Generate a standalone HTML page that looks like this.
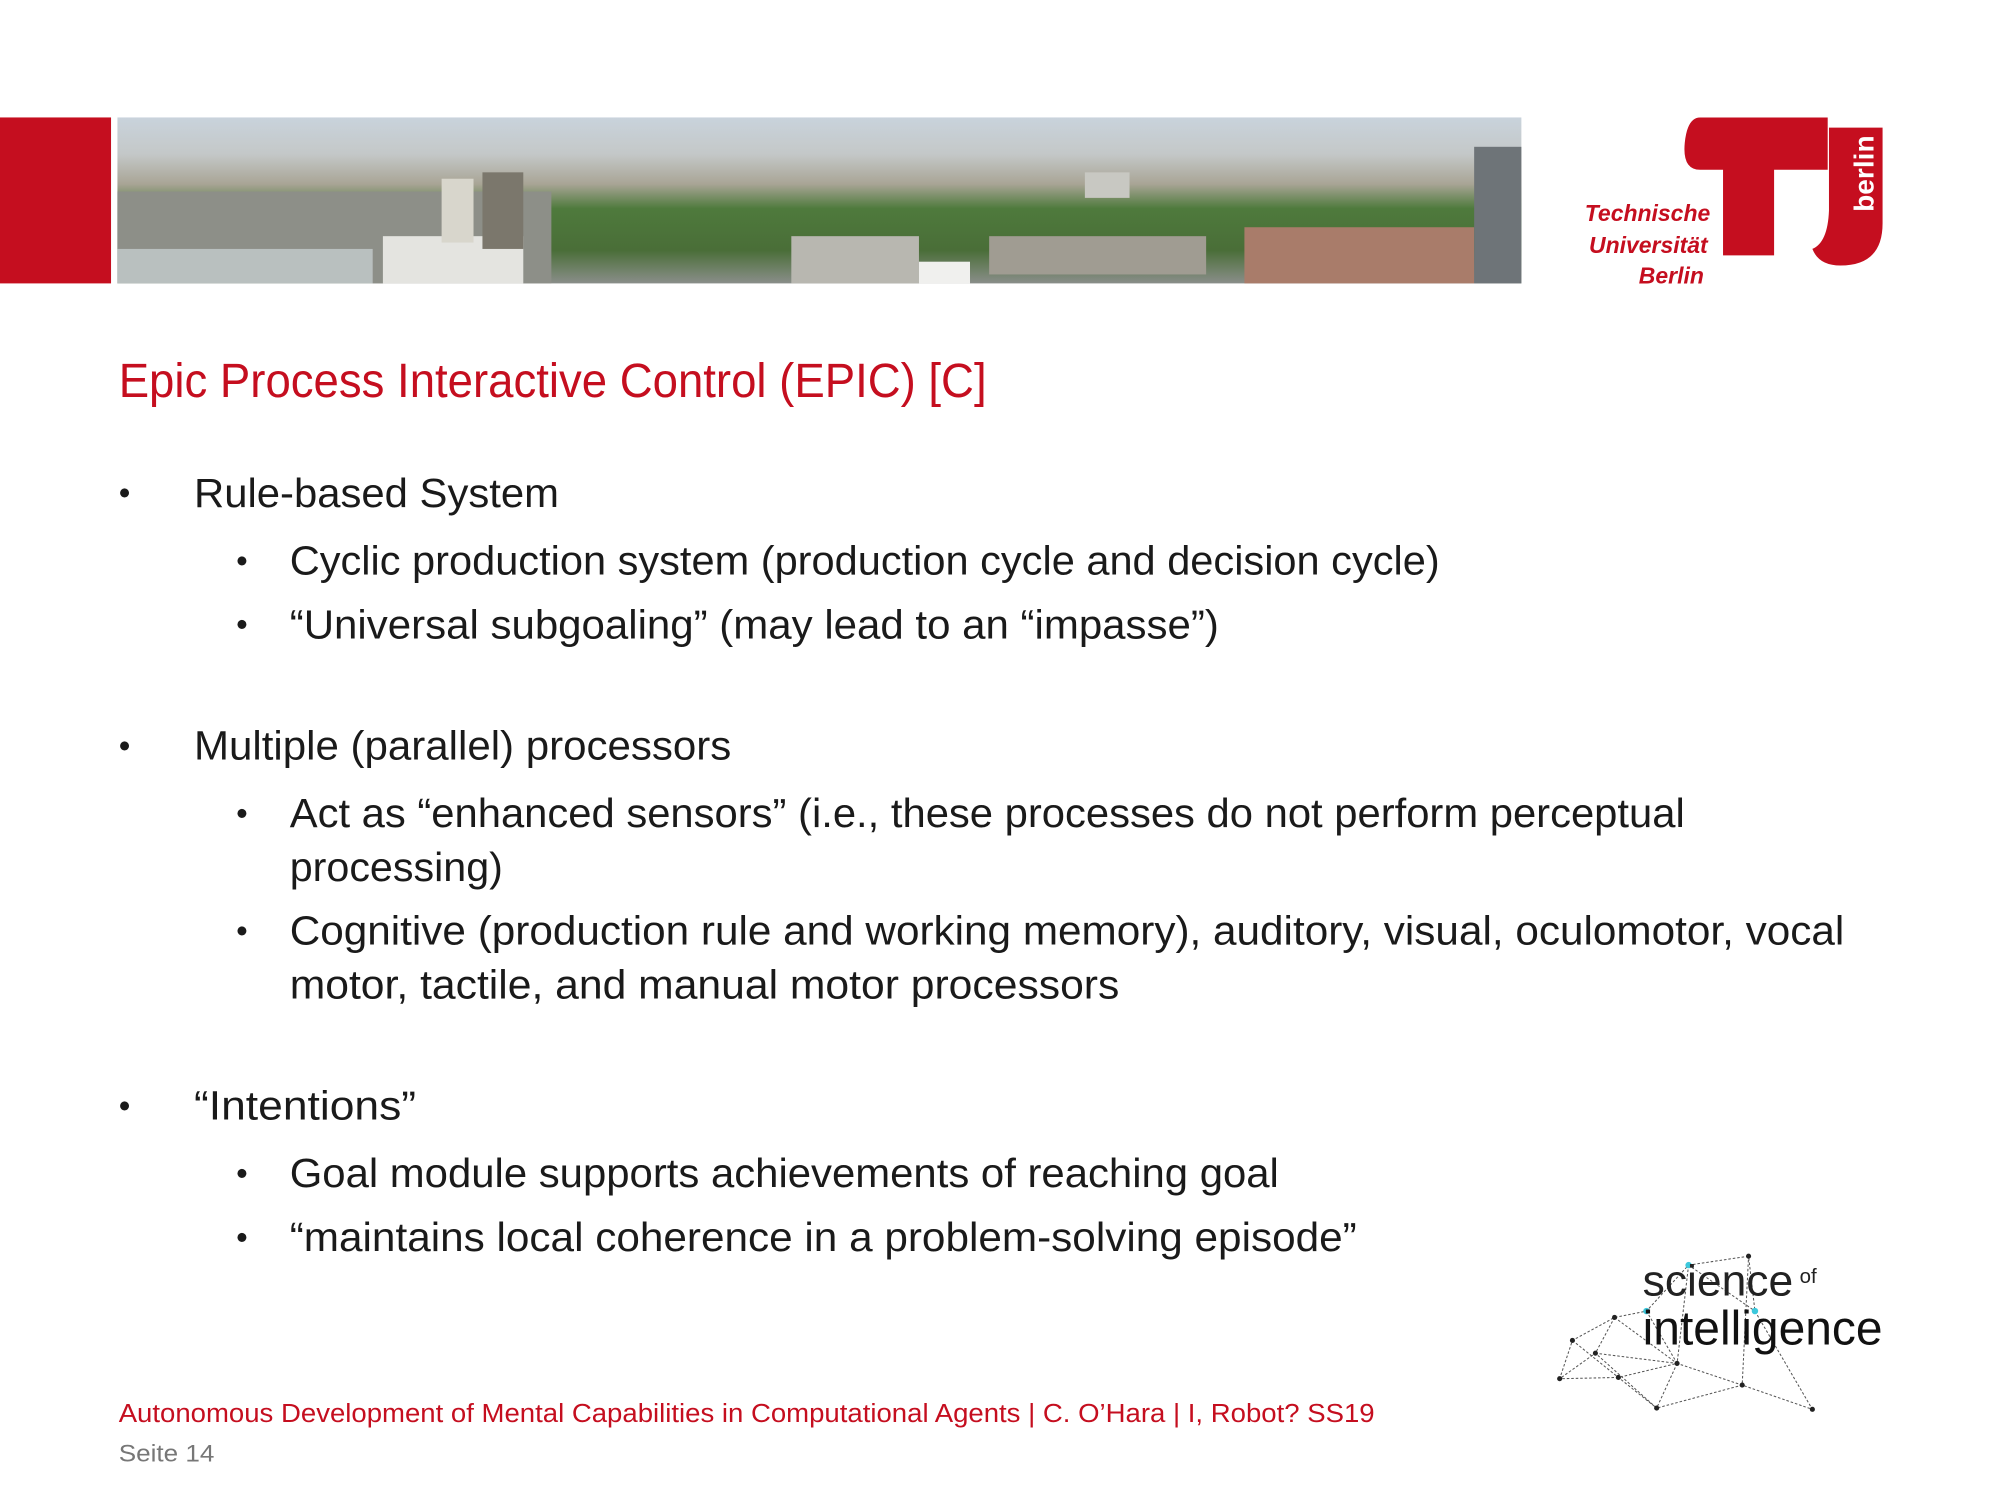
<!DOCTYPE html>
<html><head><meta charset="utf-8"><style>
html,body{margin:0;padding:0;background:#fff;width:2000px;height:1500px;overflow:hidden}
svg{display:block}
text{font-family:"Liberation Sans",sans-serif}
</style></head><body>
<svg width="2000" height="1500" viewBox="0 0 1567 1175" preserveAspectRatio="none" xmlns="http://www.w3.org/2000/svg">
<defs>
<linearGradient id="sky" x1="0" y1="0" x2="0" y2="1">
<stop offset="0" stop-color="#c9d3dc"/><stop offset="0.22" stop-color="#c4c8c8"/><stop offset="0.4" stop-color="#a9a596"/><stop offset="0.55" stop-color="#4e7a3c"/><stop offset="0.8" stop-color="#4a6e38"/><stop offset="1" stop-color="#8a8e8a"/>
</linearGradient>
</defs>
<rect x="0" y="92" width="87" height="130" fill="#c50e1f"/>
<g>
<rect x="92" y="92" width="1100" height="130" fill="url(#sky)"/>
<rect x="92" y="150" width="340" height="72" fill="#8d8f88"/>
<rect x="300" y="185" width="110" height="37" fill="#e4e4e0"/>
<rect x="92" y="195" width="200" height="27" fill="#b9c0bf"/>
<rect x="346" y="140" width="25" height="50" fill="#d8d6cc"/>
<rect x="378" y="135" width="32" height="60" fill="#7b776c"/>
<rect x="620" y="185" width="100" height="37" fill="#b8b7b0"/>
<rect x="775" y="185" width="170" height="30" fill="#a09c92"/>
<rect x="975" y="178" width="180" height="44" fill="#a97c6a"/>
<rect x="1155" y="115" width="37" height="107" fill="#6e7478"/>
<rect x="850" y="135" width="35" height="20" fill="#c8c8c2"/>
<rect x="720" y="205" width="40" height="17" fill="#f0f0ee"/>
</g>
<g>
<path d="M1332 92 H1432 V133 H1390 V200 H1350 V133 H1332 Q1318 133 1320 112 Q1322 92 1332 92 Z" fill="#c50e1f"/>
<path d="M1440 100 H1475 V175 Q1475 208 1442 208 Q1425 208 1420 195 Q1432 190 1433 165 V100 Z" fill="#c50e1f"/>
<text x="1468" y="136" transform="rotate(-90 1468 136)" font-size="22" font-weight="bold" fill="#fff" text-anchor="middle">berlin</text>
<text x="1340" y="173" font-size="18" font-weight="bold" font-style="italic" fill="#c50e1f" text-anchor="end">Technische</text>
<text x="1338" y="198" font-size="18" font-weight="bold" font-style="italic" fill="#c50e1f" text-anchor="end">Universität</text>
<text x="1335" y="222" font-size="18" font-weight="bold" font-style="italic" fill="#c50e1f" text-anchor="end">Berlin</text>
</g>
<text x="93" y="311" font-size="38" fill="#c50e1f" textLength="680" lengthAdjust="spacingAndGlyphs">Epic Process Interactive Control (EPIC) [C]</text>
<g fill="#1a1a1a" font-size="32">
<text x="93" y="395" font-size="26">•</text>
<text x="152" y="397" textLength="286" lengthAdjust="spacingAndGlyphs">Rule-based System</text>
<text x="185" y="448" font-size="26">•</text>
<text x="227" y="450" textLength="901" lengthAdjust="spacingAndGlyphs">Cyclic production system (production cycle and decision cycle)</text>
<text x="185" y="498" font-size="26">•</text>
<text x="227" y="500" textLength="728" lengthAdjust="spacingAndGlyphs">“Universal subgoaling” (may lead to an “impasse”)</text>
<text x="93" y="593" font-size="26">•</text>
<text x="152" y="595" textLength="421" lengthAdjust="spacingAndGlyphs">Multiple (parallel) processors</text>
<text x="185" y="646" font-size="26">•</text>
<text x="227" y="648" textLength="1093" lengthAdjust="spacingAndGlyphs">Act as “enhanced sensors” (i.e., these processes do not perform perceptual</text>
<text x="227" y="690" textLength="167" lengthAdjust="spacingAndGlyphs">processing)</text>
<text x="185" y="738" font-size="26">•</text>
<text x="227" y="740" textLength="1218" lengthAdjust="spacingAndGlyphs">Cognitive (production rule and working memory), auditory, visual, oculomotor, vocal</text>
<text x="227" y="782" textLength="650" lengthAdjust="spacingAndGlyphs">motor, tactile, and manual motor processors</text>
<text x="93" y="875" font-size="26">•</text>
<text x="152" y="877" textLength="174" lengthAdjust="spacingAndGlyphs">“Intentions”</text>
<text x="185" y="928" font-size="26">•</text>
<text x="227" y="930" textLength="775" lengthAdjust="spacingAndGlyphs">Goal module supports achievements of reaching goal</text>
<text x="185" y="978" font-size="26">•</text>
<text x="227" y="980" textLength="836" lengthAdjust="spacingAndGlyphs">“maintains local coherence in a problem-solving episode”</text>
</g>
<g>
<g stroke="#555" stroke-width="0.8" stroke-dasharray="2 1.5" fill="none">
<path d="M1323 991 L1370 984 L1375 1027 L1420 1104 L1365 1085 L1298 1103 L1250 1060 L1222 1080 L1232 1050 L1265 1032 L1290 1027 L1323 991 L1375 1027 M1323 991 L1314 1068 L1365 1085 L1370 984 M1265 1032 L1250 1060 L1314 1068 L1268 1079 L1222 1080 M1232 1050 L1268 1079 L1298 1103 M1314 1068 L1298 1103 M1290 1027 L1314 1068 M1265 1032 L1314 1068"/>
</g>
<g fill="#222">
<circle cx="1370" cy="984" r="2"/><circle cx="1265" cy="1032" r="2"/><circle cx="1232" cy="1050" r="2"/><circle cx="1250" cy="1060" r="2"/><circle cx="1222" cy="1080" r="2"/><circle cx="1268" cy="1079" r="2"/><circle cx="1314" cy="1068" r="2"/><circle cx="1298" cy="1103" r="2"/><circle cx="1365" cy="1085" r="2"/><circle cx="1420" cy="1104" r="2"/>
</g>
<g fill="#3cc8dc"><circle cx="1323" cy="991" r="2.5"/><circle cx="1290" cy="1027" r="2.5"/><circle cx="1375" cy="1027" r="2.5"/></g>
<text x="1287" y="1015" font-size="34" fill="#222" textLength="118" lengthAdjust="spacingAndGlyphs">science</text>
<text x="1410" y="1005" font-size="16" fill="#222">of</text>
<text x="1287" y="1053" font-size="38" fill="#111" textLength="188" lengthAdjust="spacingAndGlyphs">intelligence</text>
</g>
<text x="93" y="1114" font-size="20" fill="#c50e1f" textLength="984" lengthAdjust="spacingAndGlyphs">Autonomous Development of Mental Capabilities in Computational Agents | C. O’Hara | I, Robot? SS19</text>
<text x="93" y="1145" font-size="19" fill="#777" textLength="75" lengthAdjust="spacingAndGlyphs">Seite 14</text>
</svg>
</body></html>
